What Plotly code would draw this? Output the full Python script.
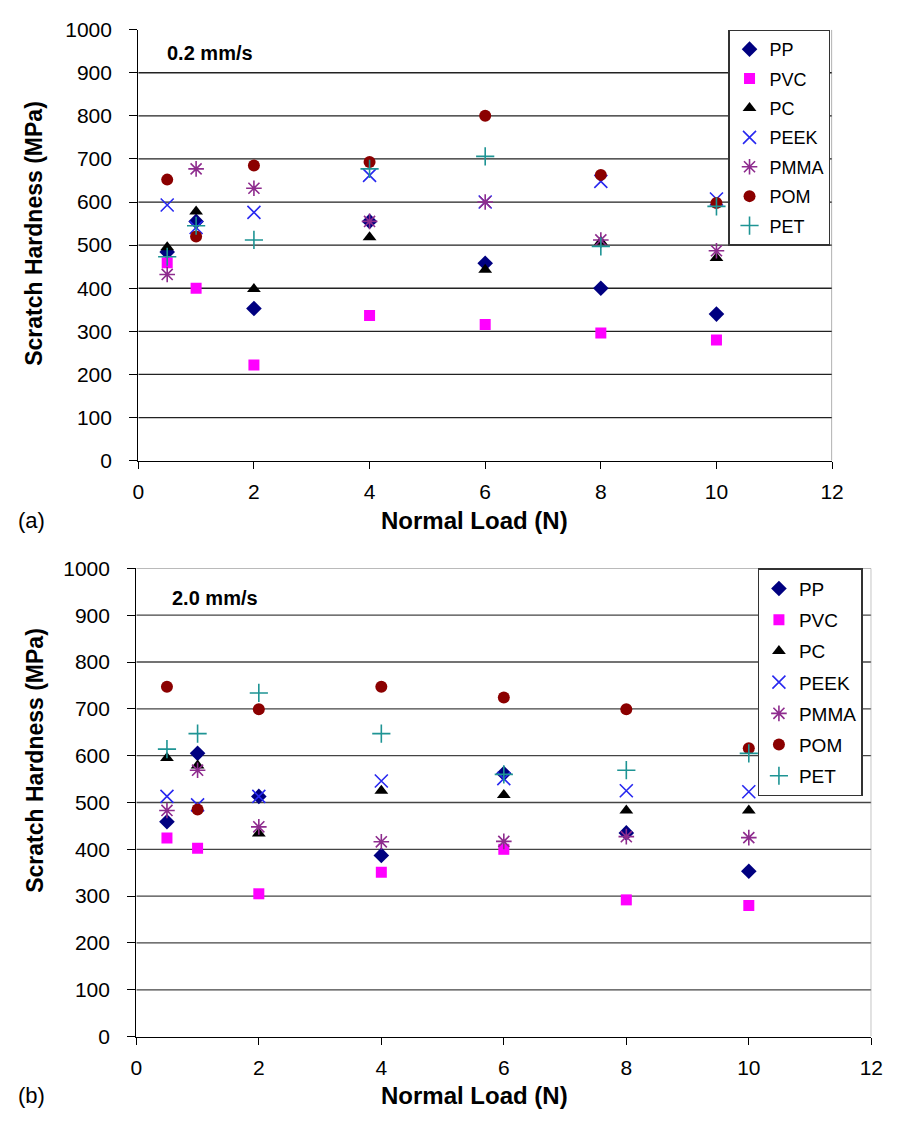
import plotly.graph_objects as go

loads = [0.5, 1, 2, 4, 6, 8, 10]
materials = ["PP", "PVC", "PC", "PEEK", "PMMA", "POM", "PET"]

# (a) 0.2 mm/s
a_PP = [484, 555, 353, 555, 458, 400, 340]
a_PVC = [459, 400, 222, 337, 316, 296, 280]
a_PC = [495, 578, 398, 518, 443, 508, 470]
a_PEEK = [593, 541, 576, 662, 600, 648, 607]
a_PMMA = [432, 677, 632, 555, 600, 512, 487]
a_POM = [652, 520, 685, 693, 800, 663, 598]
a_PET = [473, 545, 512, 677, 706, 497, 590]

# (b) 2.0 mm/s
b_PP = [459, 605, 513, 387, 562, 435, 353]
b_PVC = [424, 402, 305, 351, 400, 292, 280]
b_PC = [595, 579, 434, 525, 516, 483, 483]
b_PEEK = [513, 495, 513, 546, 551, 525, 523]
b_PMMA = [483, 569, 448, 416, 417, 427, 425]
b_POM = [747, 485, 699, 747, 724, 699, 616]
b_PET = [614, 647, 734, 647, 560, 569, 605]

xticks = [0, 2, 4, 6, 8, 10, 12]
yticks = [0, 100, 200, 300, 400, 500, 600, 700, 800, 900, 1000]

styles = {
    "PP": dict(symbol="diamond", color="#000080", size=12, line=dict(width=0)),
    "PVC": dict(symbol="square", color="#FF00FF", size=11, line=dict(width=0)),
    "PC": dict(symbol="triangle-up", color="#000000", size=12, line=dict(width=0)),
    "PEEK": dict(symbol="x-thin-open", color="#2828F0", size=13, line=dict(width=1.6, color="#2828F0")),
    "PMMA": dict(symbol="asterisk-open", color="#8E2C8E", size=13, line=dict(width=1.6, color="#8E2C8E")),
    "POM": dict(symbol="circle", color="#8B0000", size=12, line=dict(width=0)),
    "PET": dict(symbol="cross-thin-open", color="#1E9494", size=13, line=dict(width=1.6, color="#1E9494")),
}

data_a = [a_PP, a_PVC, a_PC, a_PEEK, a_PMMA, a_POM, a_PET]
data_b = [b_PP, b_PVC, b_PC, b_PEEK, b_PMMA, b_POM, b_PET]

fig = go.Figure()
for name, vals in zip(materials, data_a):
    fig.add_trace(go.Scatter(x=loads, y=vals, mode="markers", name=name,
                             marker=styles[name], xaxis="x", yaxis="y",
                             legend="legend", legendgroup="a" + name))
for name, vals in zip(materials, data_b):
    fig.add_trace(go.Scatter(x=loads, y=vals, mode="markers", name=name,
                             marker=styles[name], xaxis="x2", yaxis="y2",
                             legend="legend2", legendgroup="b" + name))

W, H = 898, 1124


def fx(px):
    return px / W


def fy(py):
    return 1 - py / H


FONT = "Liberation Sans, Arial, Helvetica"
tickfont = dict(family=FONT, size=21, color="#000")


def xax(dom, anchor, standoff):
    return dict(domain=dom, anchor=anchor, range=[0, 12], tickvals=xticks,
                showgrid=False, zeroline=False, showline=True, linecolor="#000",
                linewidth=1.3, ticks="outside", ticklen=7, tickwidth=1.2,
                tickcolor="#000", tickfont=tickfont, ticklabelstandoff=standoff)


def yax(dom, anchor):
    return dict(domain=dom, anchor=anchor, range=[0, 1000], tickvals=yticks,
                showgrid=False, zeroline=False, showline=True, linecolor="#000",
                linewidth=1.3, ticks="outside", ticklen=8, tickwidth=1.2,
                tickcolor="#000", tickfont=tickfont, ticklabelstandoff=13)


fig.update_layout(
    width=W, height=H, margin=dict(l=0, r=0, t=0, b=0),
    paper_bgcolor="white", plot_bgcolor="white",
    xaxis=xax([fx(135), fx(843)], "y", 5),
    yaxis=yax([fy(458), fy(18)], "x"),
    xaxis2=xax([fx(133), fx(883)], "y2", 5),
    yaxis2=yax([fy(1046), fy(568)], "x2"),
    legend=dict(x=fx(737), y=fy(18), xanchor="left", yanchor="top",
                bordercolor="#333", borderwidth=1.3, bgcolor="white",
                font=dict(family=FONT, size=18, color="#000"),
                tracegroupgap=3, itemwidth=30),
    legend2=dict(x=fx(767), y=fy(568), xanchor="left", yanchor="top",
                 bordercolor="#333", borderwidth=1.3, bgcolor="white",
                 font=dict(family=FONT, size=19, color="#000"),
                 tracegroupgap=3.5, itemwidth=30),
    showlegend=True,
)

shapes = []
# gridlines, top panel (no line on the 1000 edge)
for v in yticks[1:-1]:
    shapes.append(dict(type="line", xref="x", yref="y", x0=0, x1=12, y0=v, y1=v,
                       line=dict(color="#222", width=1.3), layer="below"))
# gridlines, bottom panel
for v in yticks[1:]:
    shapes.append(dict(type="line", xref="x2", yref="y2", x0=0, x1=12, y0=v, y1=v,
                       line=dict(color="#777" if v == 1000 else "#444", width=1.3), layer="below"))
# right borders
shapes.append(dict(type="line", xref="x", yref="y", x0=12, x1=12, y0=0, y1=1000,
                   line=dict(color="#777", width=1.2), layer="below"))
shapes.append(dict(type="line", xref="x2", yref="y2", x0=12, x1=12, y0=0, y1=1000,
                   line=dict(color="#999", width=1.2), layer="below"))
fig.update_layout(shapes=shapes)


def note(text, px, py, size, bold=False, angle=0, anchor="center"):
    return dict(text=f"<b>{text}</b>" if bold else text, x=fx(px), y=fy(py),
                xref="paper", yref="paper", xanchor=anchor, yanchor="middle",
                showarrow=False, textangle=angle,
                font=dict(family=FONT, size=size, color="#000"))


ann = [
    note("0.2 mm/s", 162, 42, 20, bold=True, anchor="left"),
    note("2.0 mm/s", 167, 598, 20, bold=True, anchor="left"),
    note("(a)", 10, 519, 22, anchor="left"),
    note("(b)", 10, 1106, 22, anchor="left"),
    note("Normal Load (N)", 478, 519, 24, bold=True),
    note("Normal Load (N)", 478, 1106, 24, bold=True),
    note("Scratch Hardness (MPa)", 29, 226, 23, bold=True, angle=-90),
    note("Scratch Hardness (MPa)", 30, 764, 23, bold=True, angle=-90),
]
fig.update_layout(annotations=ann)

fig.write_html("out.html")
